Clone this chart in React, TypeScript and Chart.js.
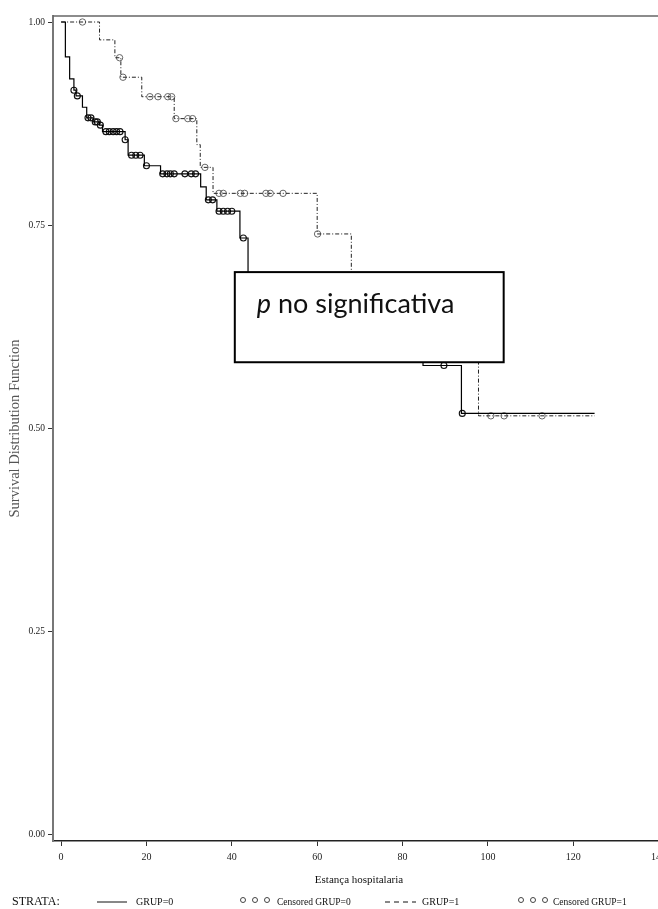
import React, { useEffect, useRef } from "react";
import { Chart, registerables } from "chart.js";
Chart.register(...registerables);

const xTicks = [0, 20, 40, 60, 80, 100, 120, 140];
const yTicks = [0, 0.25, 0.5, 0.75, 1];

// GRUP=0 Kaplan-Meier steps
const grp0Times = [0, 1, 2, 3, 3.5, 5, 6, 7.5, 9, 9.7, 15, 15.7, 19.5, 23.3, 32.7, 34, 36.5, 41.9, 43.8, 60, 84.8, 93.8, 125];
const grp0Surv = [1, 0.957, 0.93, 0.916, 0.909, 0.895, 0.882, 0.877, 0.873, 0.865, 0.855, 0.836, 0.823, 0.813, 0.797, 0.781, 0.767, 0.734, 0.67, 0.62, 0.577, 0.518, 0.518];
const grp0CensTimes = [3, 3.8, 6.3, 7, 8, 8.5, 9.2, 10.5, 11.3, 12.2, 13, 13.8, 15, 16.5, 17.5, 18.5, 20, 23.8, 24.8, 25.6, 26.5, 29, 30.5, 31.5, 34.5, 35.5, 37, 38, 39, 40, 42.7, 89.7, 94];

// GRUP=1 Kaplan-Meier steps
const grp1Times = [0, 9, 12.6, 14, 18.9, 26.5, 31.8, 32.6, 35.6, 60, 68, 97.8, 125];
const grp1Surv = [1, 0.978, 0.956, 0.932, 0.908, 0.881, 0.849, 0.821, 0.789, 0.739, 0.66, 0.515, 0.515];
const grp1CensTimes = [5, 13.7, 14.5, 20.8, 22.7, 25, 25.9, 26.9, 29.7, 30.8, 33.7, 37, 38, 42, 43, 48, 49, 52, 60.1, 100.7, 103.8, 112.7];

const boxXRange = [40.7, 103.7];
const boxYRange = [0.692, 0.581];

const legendLabels = ["STRATA:", "GRUP=0", "Censored GRUP=0", "GRUP=1", "Censored GRUP=1"];

const SERIF = "'Liberation Serif', 'DejaVu Serif', serif";

function survAt(times: number[], surv: number[], t: number) {
  let s = surv[0];
  for (let i = 0; i < times.length; i++) {
    if (times[i] <= t) s = surv[i];
  }
  return s;
}

const W = 680;
const H = 909;

const extrasPlugin = {
  id: "extras",
  beforeDatasetsDraw(chart: any) {
    const { ctx, chartArea } = chart;
    ctx.save();
    ctx.strokeStyle = "#666";
    ctx.lineWidth = 1.5;
    ctx.beginPath();
    ctx.moveTo(chartArea.left, chartArea.top);
    ctx.lineTo(chartArea.right, chartArea.top);
    ctx.stroke();
    ctx.restore();
  },
  afterDraw(chart: any) {
    const { ctx } = chart;
    const xs = chart.scales.x;
    const ys = chart.scales.y;
    // annotation box
    const x1 = xs.getPixelForValue(boxXRange[0]);
    const x2 = xs.getPixelForValue(boxXRange[1]);
    const y1 = ys.getPixelForValue(boxYRange[0]);
    const y2 = ys.getPixelForValue(boxYRange[1]);
    ctx.save();
    ctx.fillStyle = "#fff";
    ctx.fillRect(x1, y1, x2 - x1, y2 - y1);
    ctx.strokeStyle = "#000";
    ctx.lineWidth = 2;
    ctx.strokeRect(x1, y1, x2 - x1, y2 - y1);
    ctx.fillStyle = "#111";
    ctx.textBaseline = "alphabetic";
    ctx.textAlign = "left";
    const tx = x1 + 22;
    const ty = y1 + 41;
    ctx.font = "italic 27px Lato";
    ctx.fillText("p", tx, ty);
    const pw = ctx.measureText("p").width;
    ctx.font = "27px Lato";
    ctx.fillText(" no significativa", tx + pw, ty);
    ctx.restore();

    // legend
    const ly = 902;
    ctx.save();
    ctx.fillStyle = "#111";
    ctx.strokeStyle = "#111";
    ctx.textBaseline = "middle";
    ctx.textAlign = "left";
    ctx.font = "12px " + SERIF;
    ctx.fillText(legendLabels[0], 12, ly);
    ctx.font = "10px " + SERIF;
    ctx.lineWidth = 1;
    ctx.beginPath();
    ctx.moveTo(97, ly);
    ctx.lineTo(127, ly);
    ctx.stroke();
    ctx.fillText(legendLabels[1], 136, ly);
    ctx.strokeStyle = "#444";
    [243, 255, 267].forEach((cx) => {
      ctx.beginPath();
      ctx.arc(cx, ly - 2, 2.5, 0, Math.PI * 2);
      ctx.stroke();
    });
    ctx.font = "9.5px " + SERIF;
    ctx.fillText(legendLabels[2], 277, ly);
    ctx.strokeStyle = "#111";
    ctx.setLineDash([5, 4]);
    ctx.beginPath();
    ctx.moveTo(385, ly);
    ctx.lineTo(416, ly);
    ctx.stroke();
    ctx.setLineDash([]);
    ctx.font = "10px " + SERIF;
    ctx.fillText(legendLabels[3], 422, ly);
    ctx.strokeStyle = "#444";
    [521, 533, 545].forEach((cx) => {
      ctx.beginPath();
      ctx.arc(cx, ly - 2, 2.5, 0, Math.PI * 2);
      ctx.stroke();
    });
    ctx.font = "9.5px " + SERIF;
    ctx.fillText(legendLabels[4], 553, ly);
    ctx.restore();
  },
};

export default function App() {
  const ref = useRef<HTMLCanvasElement | null>(null);
  useEffect(() => {
    if (!ref.current) return;
    const g0 = grp0Times.map((t, i) => ({ x: t, y: grp0Surv[i] }));
    const g1 = grp1Times.map((t, i) => ({ x: t, y: grp1Surv[i] }));
    const c0 = grp0CensTimes.map((t) => ({ x: t, y: survAt(grp0Times, grp0Surv, t) }));
    const c1 = grp1CensTimes.map((t) => ({ x: t, y: survAt(grp1Times, grp1Surv, t) }));
    const chart = new Chart(ref.current, {
      type: "line",
      data: {
        datasets: [
          {
            label: "GRUP=0",
            data: g0,
            stepped: "before",
            borderColor: "#000",
            borderWidth: 1.2,
            pointRadius: 0,
            fill: false,
          },
          {
            label: "GRUP=1",
            data: g1,
            stepped: "before",
            borderColor: "#222",
            borderWidth: 1,
            borderDash: [4, 2, 1, 2],
            pointRadius: 0,
            fill: false,
          },
          {
            label: "Censored GRUP=0",
            data: c0,
            showLine: false,
            pointStyle: "circle",
            pointRadius: 3,
            pointBorderWidth: 1.1,
            pointBorderColor: "#111",
            pointBackgroundColor: "rgba(255,255,255,0)",
          },
          {
            label: "Censored GRUP=1",
            data: c1,
            showLine: false,
            pointStyle: "circle",
            pointRadius: 3.2,
            pointBorderWidth: 1,
            pointBorderColor: "#666",
            pointBackgroundColor: "rgba(255,255,255,0)",
          },
        ],
      },
      options: {
        responsive: false,
        animation: false,
        devicePixelRatio: 1,
        layout: { padding: { left: 0, right: W - 665, top: 16, bottom: 0 } },
        plugins: { legend: { display: false }, tooltip: { enabled: false } },
        scales: {
          x: {
            type: "linear",
            min: -1.9,
            max: 141.5,
            afterFit: (s: any) => {
              s.height = 68;
            },
            afterBuildTicks: (s: any) => {
              s.ticks = xTicks.map((v) => ({ value: v }));
            },
            grid: { display: true, drawOnChartArea: false, drawTicks: true, tickLength: 5, color: "#333" },
            border: { display: true, color: "#222", width: 1.5 },
            ticks: {
              padding: 5,
              color: "#222",
              font: { family: SERIF, size: 10 },
              maxRotation: 0,
              autoSkip: false,
              callback: (v: any) => String(v),
            },
            title: {
              display: true,
              text: "Estança hospitalaria",
              color: "#111",
              font: { family: SERIF, size: 11 },
              padding: { top: 0, bottom: 22 },
            },
          },
          y: {
            type: "linear",
            min: -0.0086,
            max: 1.0074,
            afterFit: (s: any) => {
              s.width = 53;
            },
            afterBuildTicks: (s: any) => {
              s.ticks = yTicks.map((v) => ({ value: v }));
            },
            grid: { display: true, drawOnChartArea: false, drawTicks: true, tickLength: 5, color: "#333" },
            border: { display: true, color: "#777", width: 2 },
            ticks: {
              padding: 3,
              color: "#222",
              font: { family: SERIF, size: 9.5 },
              autoSkip: false,
              callback: (v: any) => Number(v).toFixed(2),
            },
            title: {
              display: true,
              text: "Survival Distribution Function",
              color: "#555",
              font: { family: SERIF, size: 14.5 },
              padding: { top: 6, bottom: 0 },
            },
          },
        },
      },
      plugins: [extrasPlugin],
    });
    return () => chart.destroy();
  }, []);
  return (
    <div
      style={{
        position: "fixed",
        left: 0,
        top: 0,
        width: 658,
        height: 909,
        overflow: "hidden",
        background: "#fff",
      }}
    >
      <canvas ref={ref} width={W} height={H} style={{ width: W, height: H, display: "block" }} />
    </div>
  );
}
